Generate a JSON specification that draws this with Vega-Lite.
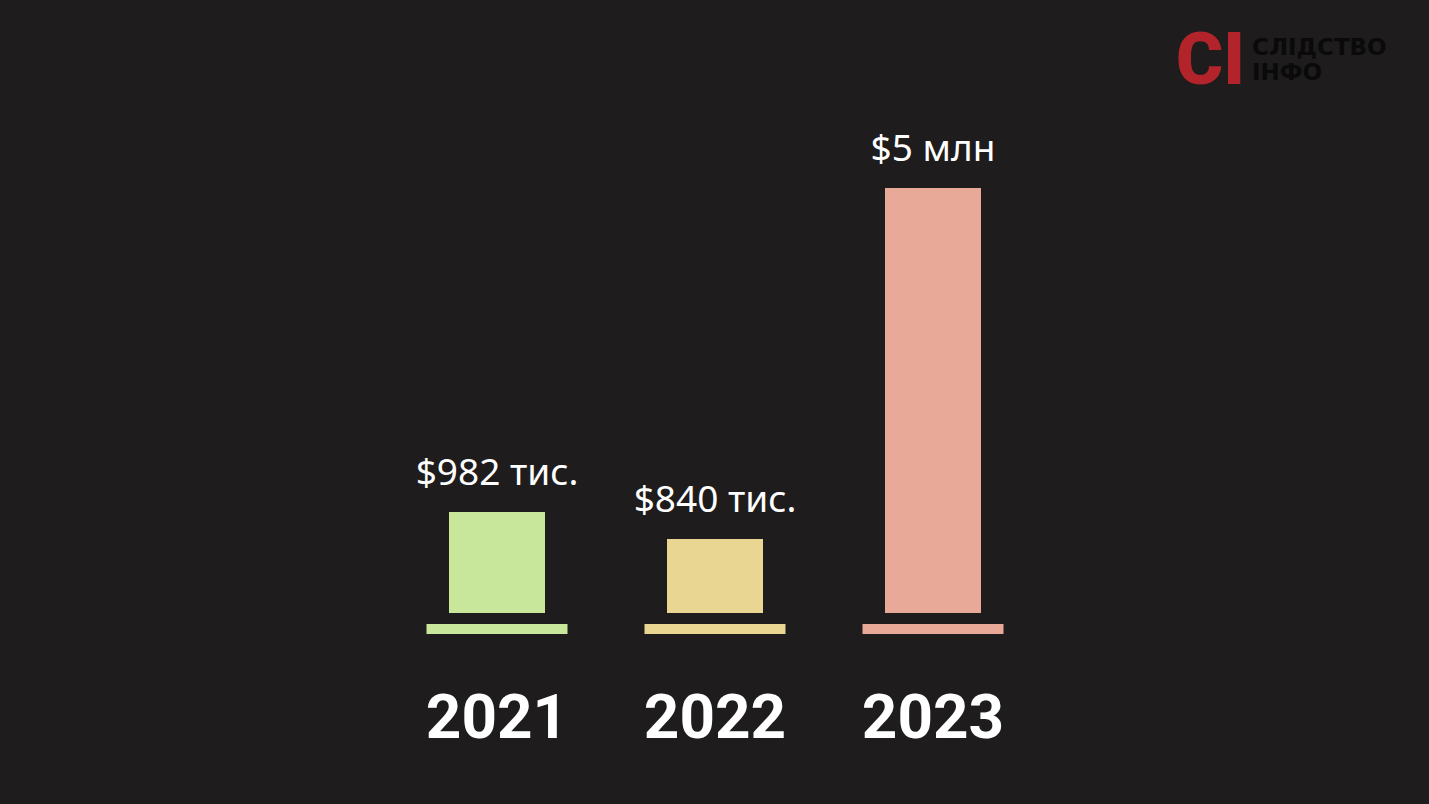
{
  "$schema": "https://vega.github.io/schema/vega-lite/v6.json",
  "autosize": {"type": "none"},
  "width": 1429,
  "height": 613,
  "padding": {"left": 0, "top": 0, "right": 0, "bottom": 191},
  "background": "#1e1c1c",
  "config": {"view": {"stroke": null}, "font": "Noto Sans"},
  "data": {"values": [
    {"year": "2021", "value": 982000, "label": "$982 тис."},
    {"year": "2022", "value": 840000, "label": "$840 тис."},
    {"year": "2023", "value": 5000000, "label": "$5 млн"}
  ]},
  "encoding": {
    "x": {
      "field": "year", "type": "ordinal",
      "scale": {"range": [388, 1042], "paddingInner": 0, "paddingOuter": 0},
      "axis": {"title": null, "labelAngle": 0, "domain": false, "ticks": false, "tickSize": 0, "grid": false,
        "labelPadding": 124, "labelBaseline": "alphabetic", "labelFont": "Roboto", "labelFontWeight": "bold",
        "labelFontSize": 62, "labelColor": "#ffffff"}
    },
    "color": {"field": "year", "type": "nominal",
      "scale": {"domain": ["2021", "2022", "2023"], "range": ["#c9e79a", "#e9d693", "#e8a998"]}, "legend": null}
  },
  "layer": [
    {
      "mark": {"type": "bar", "width": 96},
      "encoding": {"y": {"field": "value", "type": "quantitative",
        "scale": {"domain": [0, 840000, 982000, 5000000], "range": [613, 539, 512, 188], "zero": false, "nice": false},
        "axis": null}}
    },
    {
      "mark": {"type": "tick", "orient": "horizontal", "thickness": 10, "size": 141, "yOffset": 16, "opacity": 1},
      "encoding": {"y": {"datum": 0, "type": "quantitative"}}
    },
    {
      "mark": {"type": "text", "baseline": "alphabetic", "align": "center", "dy": -27, "fontSize": 37},
      "encoding": {"y": {"field": "value", "type": "quantitative"}, "text": {"field": "label"}, "color": {"value": "#ffffff"}}
    },
    {
      "data": {"values": [{}]},
      "mark": {"type": "text", "text": "СІ", "font": "Roboto", "fontWeight": 900, "fontSize": 72, "align": "left", "baseline": "alphabetic"},
      "encoding": {"x": {"value": 1176}, "y": {"value": 84}, "color": {"value": "#b3242a"}}
    },
    {
      "data": {"values": [{}]},
      "mark": {"type": "text", "text": ["СЛІДСТВО", "ІНФО"], "lineHeight": 25, "font": "DejaVu Sans", "fontWeight": "bold", "fontSize": 23, "align": "left", "baseline": "alphabetic"},
      "encoding": {"x": {"value": 1252}, "y": {"value": 55}, "color": {"value": "#0a0a0a"}}
    }
  ]
}
